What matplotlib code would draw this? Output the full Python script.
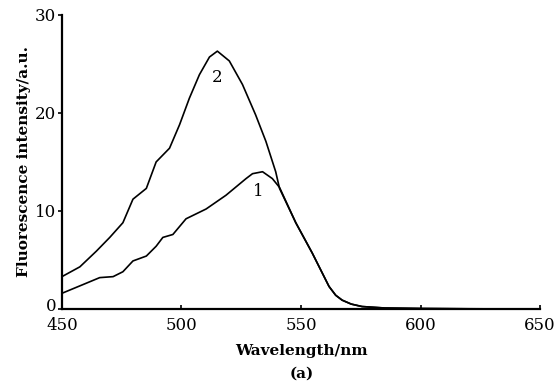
import matplotlib
matplotlib.use("Agg")
import matplotlib.pyplot as plt
import matplotlib.transforms as mtransforms

# curve 2 (upper)
wl_2 = [450, 457.5, 464.4, 470, 475.5, 479.7, 485.3, 489.4, 495, 499.2, 503.3,
        507.5, 511.7, 515, 520, 525.5, 531, 535.3, 539.4, 541, 547.8, 554.7,
        561.7, 564.5, 567.2, 571, 575.5, 585, 600, 620, 650]
int_2 = [3.3, 4.3, 5.9, 7.3, 8.8, 11.2, 12.3, 15.0, 16.4, 18.8, 21.5,
         23.9, 25.7, 26.3, 25.3, 22.9, 19.8, 17.1, 14.0, 12.3, 8.8, 5.7,
         2.3, 1.4, 0.9, 0.5, 0.25, 0.1, 0.05, 0.02, 0.0]

# curve 1 (lower)
wl_1 = [450, 458.9, 465.8, 471.4, 475.5, 479.7, 485.3, 489.4, 492.2, 496.4,
        501.9, 510.3, 518.6, 527, 529.7, 533.9, 538, 541, 547.8, 554.7,
        561.7, 564.5, 567.2, 571, 575.5, 585, 600, 620, 650]
int_1 = [1.6, 2.5, 3.2, 3.3, 3.8, 4.9, 5.4, 6.4, 7.3, 7.6,
         9.2, 10.2, 11.6, 13.3, 13.8, 14.0, 13.3, 12.4, 8.8, 5.7,
         2.3, 1.4, 0.9, 0.5, 0.25, 0.1, 0.05, 0.02, 0.0]

plt.rcParams['font.family'] = ['DejaVu Serif']

fig = plt.figure(figsize=(5.58, 3.81), dpi=100)
ax = fig.add_axes([0.111, 0.189, 0.857, 0.772])

ax.plot(wl_2, int_2, color='black', lw=1.2)
ax.plot(wl_1, int_1, color='black', lw=1.2)

ax.text(515, 23.6, '2', ha='center', va='center', fontsize=12)
ax.text(532, 12.0, '1', ha='center', va='center', fontsize=12)

ax.set_xlim(450, 650)
ax.set_ylim(0, 30)
ax.set_xticks([450, 500, 550, 600, 650])
ax.set_yticks([0, 10, 20, 30])
for s in ['top', 'right']:
    ax.spines[s].set_visible(False)
for s in ['left', 'bottom']:
    ax.spines[s].set_linewidth(1.6)
ax.tick_params(axis='both', labelsize=12, width=1.2, length=3)
ax.tick_params(axis='y', pad=1)
ax.tick_params(axis='x', direction='in', pad=6)

# nudge the "0" label up so it clears the "450" below it
zero_lbl = ax.get_yticklabels()[0]
zero_lbl.set_transform(zero_lbl.get_transform() +
                       mtransforms.ScaledTranslation(0, 3 / 72, fig.dpi_scale_trans))

ax.set_xlabel('Wavelength/nm', fontsize=11, fontweight='bold', labelpad=7)
ax.set_ylabel('Fluorescence intensity/a.u.', fontsize=11, fontweight='bold', labelpad=3)
fig.text(0.54, 0.008, '(a)', ha='center', fontsize=11, fontweight='bold')

fig.savefig('out.png', dpi=100)
